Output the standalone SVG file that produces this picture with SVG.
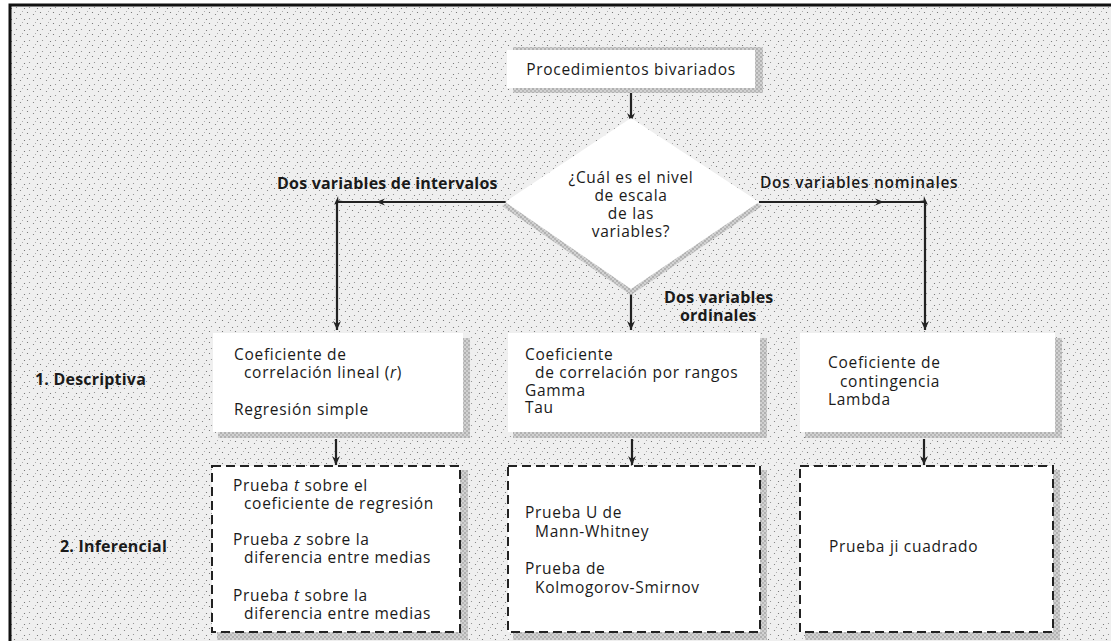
<svg xmlns="http://www.w3.org/2000/svg" width="1111" height="641" viewBox="0 0 1111 641">
<defs>
<pattern id="stip" width="13" height="11" patternUnits="userSpaceOnUse">
<rect width="13" height="11" fill="#efefef"/>
<circle cx="1.5" cy="1.5" r="0.6" fill="#666"/>
<circle cx="7.5" cy="3.5" r="0.6" fill="#777"/>
<circle cx="3.5" cy="7.5" r="0.6" fill="#888"/>
<circle cx="11.5" cy="8.5" r="0.6" fill="#666"/>
<circle cx="9.5" cy="0.5" r="0.5" fill="#999"/>
</pattern>
<pattern id="shad" width="4" height="4" patternUnits="userSpaceOnUse">
<rect width="4" height="4" fill="#d2d2d2"/>
<circle cx="1" cy="1" r="0.7" fill="#777"/>
<circle cx="3" cy="3" r="0.7" fill="#888"/>
</pattern>
<marker id="ah" markerWidth="9" markerHeight="11" refX="9" refY="4.5" orient="auto" markerUnits="userSpaceOnUse">
<path d="M0,0.5 L9,4.5 L0,8.5 L3,4.5 z" fill="#222"/>
</marker>
<marker id="mid" markerWidth="10" markerHeight="8" refX="5" refY="4" orient="auto" markerUnits="userSpaceOnUse">
<path d="M0,0.5 L9,4 L0,7.5 L3,4 z" fill="#222"/>
</marker>
</defs>
<style>
.t{font-family:"Open Sans","Noto Sans","Liberation Sans",sans-serif;font-size:15.5px;letter-spacing:0.7px;fill:#1a1a1a}
.b{font-family:"Open Sans","Noto Sans","Liberation Sans",sans-serif;font-size:16px;letter-spacing:0.2px;font-weight:bold;fill:#1a1a1a}
.box{fill:#ffffff;stroke:none}
.dash{fill:#ffffff;stroke:#222;stroke-width:2;stroke-dasharray:9,5}
.sh{fill:url(#shad)}
.ln{fill:none;stroke:#222;stroke-width:2.2}
</style>
<rect x="0" y="0" width="1111" height="641" fill="#ffffff"/>
<rect x="10" y="6" width="1101" height="635" fill="url(#stip)"/>
<path d="M10,641 L10,5 L1111,5" fill="none" stroke="#111" stroke-width="3"/>

<g id="connectors">
<line class="ln" x1="631" y1="91" x2="631" y2="122" marker-end="url(#ah)"/>
<polyline class="ln" points="507,202 380,202 337,202 337,330" marker-mid="url(#mid)" marker-end="url(#ah)"/>
<polyline class="ln" points="759,202 880,202 925,202 925,330" marker-mid="url(#mid)" marker-end="url(#ah)"/>
<line class="ln" x1="631" y1="290" x2="631" y2="330" marker-end="url(#ah)"/>
<line class="ln" x1="336" y1="439" x2="336" y2="465" marker-end="url(#ah)"/>
<line class="ln" x1="632" y1="439" x2="632" y2="465" marker-end="url(#ah)"/>
<line class="ln" x1="924" y1="439" x2="924" y2="465" marker-end="url(#ah)"/>
</g>

<g id="n-procedimientos">
<rect class="sh" x="513" y="47" width="250" height="46"/>
<rect class="box" x="507" y="50" width="248" height="38"/>
<text class="t" x="631" y="75" text-anchor="middle" font-size="16.5px">Procedimientos bivariados</text>
</g>

<g id="n-nivel">
<polygon class="sh" points="631,124 762,206 631,295 502,206"/>
<polygon class="box" points="631,118 759,202 631,289 505,202"/>
<text class="t" x="631" y="183" text-anchor="middle">¿Cuál es el nivel</text>
<text class="t" x="631" y="201" text-anchor="middle">de escala</text>
<text class="t" x="631" y="219" text-anchor="middle">de las</text>
<text class="t" x="631" y="237" text-anchor="middle">variables?</text>
</g>

<g id="labels">
<text class="b" x="277" y="189">Dos variables de intervalos</text>
<text class="t" x="760" y="188" font-weight="600" letter-spacing="0.3px" font-size="16px">Dos variables nominales</text>
<text class="b" x="664" y="303">Dos variables</text>
<text class="b" x="680" y="321">ordinales</text>
<text class="b" x="35" y="385">1. Descriptiva</text>
<text class="b" x="60" y="552">2. Inferencial</text>
</g>

<g id="n-intervalos-desc">
<rect class="sh" x="218" y="338" width="252" height="100"/>
<rect class="box" x="213" y="333" width="250" height="99"/>
<text class="t" x="234" y="360">Coeficiente de</text>
<text class="t" x="244" y="378">correlación lineal (<tspan font-style="italic">r</tspan>)</text>
<text class="t" x="234" y="415">Regresión simple</text>
</g>

<g id="n-ordinales-desc">
<rect class="sh" x="513" y="338" width="254" height="100"/>
<rect class="box" x="508" y="333" width="252" height="99"/>
<text class="t" x="525" y="360">Coeficiente</text>
<text class="t" x="535" y="378">de correlación por rangos</text>
<text class="t" x="525" y="396">Gamma</text>
<text class="t" x="525" y="413">Tau</text>
</g>

<g id="n-nominales-desc">
<rect class="sh" x="805" y="338" width="257" height="100"/>
<rect class="box" x="800" y="333" width="255" height="99"/>
<text class="t" x="828" y="368">Coeficiente de</text>
<text class="t" x="840" y="387">contingencia</text>
<text class="t" x="828" y="405">Lambda</text>
</g>

<g id="n-intervalos-inf">
<rect class="sh" x="217" y="470" width="251" height="170"/>
<rect class="dash" x="212" y="466" width="248" height="166"/>
<text class="t" x="233" y="491">Prueba <tspan font-style="italic">t</tspan> sobre el</text>
<text class="t" x="244" y="509">coeficiente de regresión</text>
<text class="t" x="233" y="545">Prueba <tspan font-style="italic">z</tspan> sobre la</text>
<text class="t" x="244" y="563">diferencia entre medias</text>
<text class="t" x="233" y="601">Prueba <tspan font-style="italic">t</tspan> sobre la</text>
<text class="t" x="244" y="619">diferencia entre medias</text>
</g>

<g id="n-ordinales-inf">
<rect class="sh" x="513" y="470" width="254" height="170"/>
<rect class="dash" x="508" y="466" width="252" height="166"/>
<text class="t" x="525" y="518">Prueba U de</text>
<text class="t" x="535" y="537">Mann-Whitney</text>
<text class="t" x="525" y="574">Prueba de</text>
<text class="t" x="535" y="593">Kolmogorov-Smirnov</text>
</g>

<g id="n-nominales-inf">
<rect class="sh" x="805" y="470" width="255" height="170"/>
<rect class="dash" x="800" y="466" width="253" height="166"/>
<text class="t" x="829" y="552">Prueba ji cuadrado</text>
</g>
</svg>
